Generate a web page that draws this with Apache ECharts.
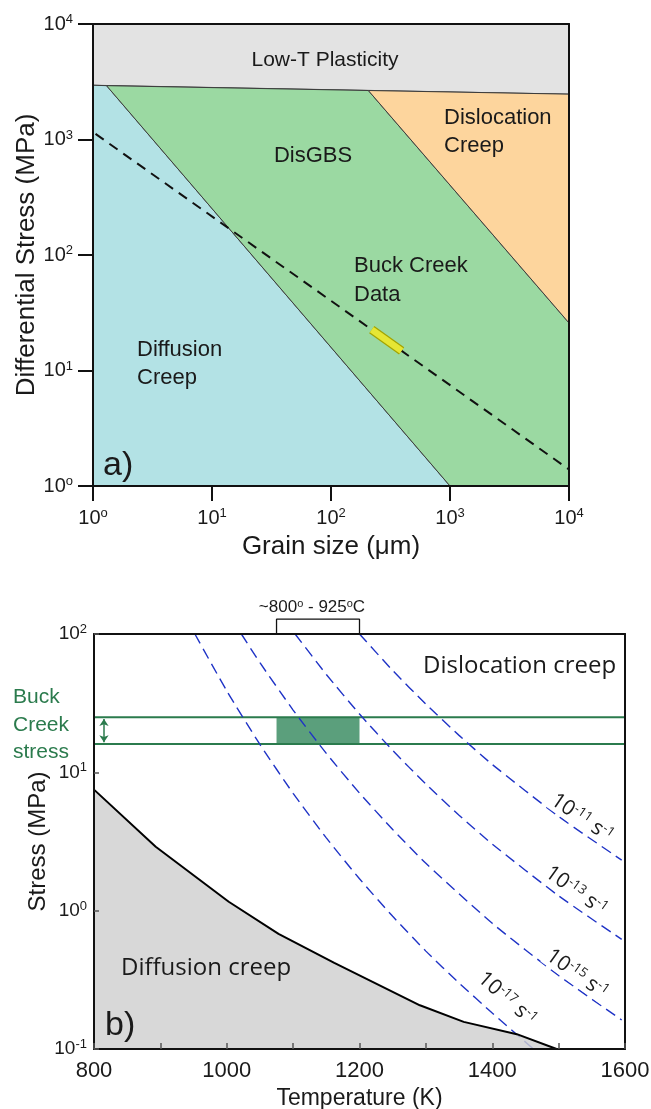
<!DOCTYPE html>
<html><head><meta charset="utf-8">
<script src="https://cdn.jsdelivr.net/npm/echarts@6/dist/echarts.min.js"></script>
<style>html,body{margin:0;padding:0;background:#fff}#c{width:651px;height:1109px}</style>
</head><body><div id="c"></div>
<script>
// ---------- Panel a) data (grain size µm, stress MPa) ----------
const topSupLabels = ['o', '1', '2', '3', '4'];          // exponents 0..4
const lowTPoly = [[1, 10000], [10000, 10000], [10000, 2470], [1, 2950]];
const diffusionPoly = [[1, 2950], [1.3, 2925], [1000, 1], [1, 1]];
const disgbsPoly = [[1.3, 2925], [206, 2655], [10000, 25.8], [10000, 1], [1000, 1]];
const dislocationPoly = [[206, 2655], [10000, 2470], [10000, 25.8]];
const buckTrend = [[1.05, 1118], [10000, 1.39]];
const buckData = [[220, 22.6], [392, 14.8]];

// ---------- Panel b) data (temperature K, stress MPa) ----------
const bottomSupLabels = {'-1': '-1', '0': '0', '1': '1', '2': '2'};
const diffBoundary = [[800, 7.5], [893, 2.9], [1003, 1.16], [1078, 0.68], [1162, 0.42], [1291, 0.207], [1357, 0.157], [1437, 0.128], [1497, 0.1], [1510, 0.1]];
const rate17 = [[952, 100], [1000, 38.8], [1050, 15.9], [1100, 7.05], [1150, 3.36], [1200, 1.70], [1250, 0.91], [1300, 0.51], [1350, 0.30], [1400, 0.182], [1462, 0.1]];
const rate15 = [[1022, 100], [1050, 62], [1100, 28.2], [1150, 13.7], [1200, 7.08], [1250, 3.86], [1300, 2.2], [1400, 0.81], [1500, 0.34], [1595, 0.162]];
const rate13 = [[1103, 100], [1150, 51], [1200, 26.4], [1250, 14.4], [1300, 8.22], [1350, 4.9], [1400, 3.03], [1500, 1.28], [1595, 0.62]];
const rate11 = [[1200, 100], [1250, 54.5], [1300, 31.1], [1350, 18.5], [1400, 11.4], [1500, 4.8], [1595, 2.32]];
const buckStress = [16, 25];
const tempSpan = [800, 1600];
const tempWindow = [1075, 1200];
const bracketTop = 128;
const arrowTemp = 815;

const FONT = "'Liberation Sans', Arial, sans-serif";
const FONT2 = "'Open Sans', 'Noto Sans', sans-serif";
const INK = '#1a1a1a';
const GREEN = '#2b7b4d';
const BLUE = '#1f33c6';

function poly(pts, color) {
  return {
    type: 'custom', xAxisIndex: 0, yAxisIndex: 0, data: pts, silent: true, z: 1,
    renderItem: function (params, api) {
      if (params.dataIndex !== 0) return null;
      return { type: 'polygon', shape: { points: pts.map(p => api.coord(p)) },
               style: { fill: color, stroke: '#3c3c3c', lineWidth: 1 } };
    }
  };
}

const supRich = { s: { fontSize: 13, fontFamily: FONT, color: INK, padding: [0, 0, 9, 0] } };

function frameAxis(extra) {
  return Object.assign({ axisLine: { show: true, lineStyle: { color: '#111', width: 2 } },
    axisTick: { show: false }, axisLabel: { show: false }, splitLine: { show: false }, z: 10 }, extra);
}

const option = {
  animation: false,
  backgroundColor: '#fff',
  grid: [
    { left: 93, right: 82, top: 24, height: 462, outerBoundsMode: 'none', containLabel: false },
    { left: 94, right: 26, top: 634, height: 415, outerBoundsMode: 'none', containLabel: false }
  ],
  xAxis: [
    { type: 'log', logBase: 10, min: 1, max: 10000, gridIndex: 0, z: 10,
      axisLine: { lineStyle: { color: '#111', width: 2 } },
      axisTick: { length: 15, lineStyle: { color: '#111', width: 2 } },
      splitLine: { show: false }, minorTick: { show: false },
      axisLabel: { margin: 21, fontSize: 20, fontFamily: FONT, color: INK, rich: supRich,
        formatter: v => '10{s|' + topSupLabels[Math.round(Math.log10(v))] + '}' },
      name: 'Grain size (\u03bcm)', nameLocation: 'middle', nameGap: 48, nameMoveOverlap: false,
      nameTextStyle: { fontSize: 26, fontFamily: FONT, color: INK } },
    frameAxis({ type: 'log', logBase: 10, min: 1, max: 10000, gridIndex: 0, position: 'top' }),
    { type: 'value', min: 800, max: 1600, interval: 100, gridIndex: 1, z: 10,
      axisLine: { lineStyle: { color: '#111', width: 2 } },
      axisTick: { inside: true, length: 6, lineStyle: { color: '#555', width: 1.5 } },
      splitLine: { show: false },
      axisLabel: { margin: 11, fontSize: 22, fontFamily: FONT, color: INK,
        formatter: v => (v % 200 === 0 ? String(v) : '') },
      name: 'Temperature (K)', nameLocation: 'middle', nameGap: 38, nameMoveOverlap: false,
      nameTextStyle: { fontSize: 23, fontFamily: FONT, color: INK } },
    frameAxis({ type: 'value', min: 800, max: 1600, gridIndex: 1, position: 'top' })
  ],
  yAxis: [
    { type: 'log', logBase: 10, min: 1, max: 10000, gridIndex: 0, z: 10,
      axisLine: { lineStyle: { color: '#111', width: 2 } },
      axisTick: { length: 15, lineStyle: { color: '#111', width: 2 } },
      splitLine: { show: false }, minorTick: { show: false },
      axisLabel: { margin: 20, fontSize: 20, fontFamily: FONT, color: INK, rich: supRich,
        formatter: v => '10{s|' + topSupLabels[Math.round(Math.log10(v))] + '}' },
      name: 'Differential Stress (MPa)', nameLocation: 'middle', nameGap: 53, nameMoveOverlap: false,
      nameTextStyle: { fontSize: 26, fontFamily: FONT, color: INK } },
    frameAxis({ type: 'log', logBase: 10, min: 1, max: 10000, gridIndex: 0, position: 'right' }),
    { type: 'log', logBase: 10, min: 0.1, max: 100, gridIndex: 1, z: 10,
      axisLine: { lineStyle: { color: '#111', width: 2 } },
      axisTick: { inside: true, length: 5, lineStyle: { color: '#555', width: 1.5 } },
      splitLine: { show: false }, minorTick: { show: false },
      axisLabel: { margin: 7, fontSize: 19, fontFamily: FONT, color: INK, rich: supRich,
        formatter: v => '10{s|' + bottomSupLabels[String(Math.round(Math.log10(v)))] + '}' },
      name: 'Stress (MPa)', nameLocation: 'middle', nameGap: 44, nameMoveOverlap: false,
      nameTextStyle: { fontSize: 24, fontFamily: FONT, color: INK } },
    frameAxis({ type: 'log', logBase: 10, min: 0.1, max: 100, gridIndex: 1, position: 'right' })
  ],
  series: [
    poly(lowTPoly, '#e3e3e3'),
    poly(diffusionPoly, '#b3e2e5'),
    poly(disgbsPoly, '#9bd9a2'),
    poly(dislocationPoly, '#fdd59d'),
    { type: 'line', xAxisIndex: 0, yAxisIndex: 0, data: buckTrend, symbol: 'none', silent: true, z: 3,
      lineStyle: { color: '#111', width: 2, type: [10, 7] } },
    { type: 'line', xAxisIndex: 0, yAxisIndex: 0, data: buckData, symbol: 'none', silent: true, z: 4,
      lineStyle: { color: '#a3a300', width: 9, cap: 'butt' } },
    { type: 'line', xAxisIndex: 0, yAxisIndex: 0, data: buckData, symbol: 'none', silent: true, z: 4,
      lineStyle: { color: '#eded3a', width: 6.5, cap: 'butt', opacity: 0.9 } },

    // panel b
    { type: 'line', xAxisIndex: 2, yAxisIndex: 2, silent: true, z: 2, symbol: 'none',
      data: [[tempSpan[0], buckStress[1]], [tempSpan[1], buckStress[1]]],
      lineStyle: { color: GREEN, width: 2 },
      markArea: { silent: true, itemStyle: { color: '#5b9f7c' },
        data: [[{ coord: [tempWindow[0], buckStress[1]] }, { coord: [tempWindow[1], buckStress[0]] }]] },
      markLine: { silent: true, symbol: ['arrow', 'arrow'], symbolSize: 7, label: { show: false },
        lineStyle: { color: GREEN, width: 1.5, type: 'solid' },
        data: [[{ coord: [arrowTemp, buckStress[1] * 0.97] }, { coord: [arrowTemp, buckStress[0] * 1.03] }]] } },
    { type: 'line', xAxisIndex: 2, yAxisIndex: 2, silent: true, z: 2, symbol: 'none',
      data: [[tempSpan[0], buckStress[0]], [tempSpan[1], buckStress[0]]],
      lineStyle: { color: GREEN, width: 2 } },
    ...[rate17, rate15, rate13, rate11].map(d => ({
      type: 'line', xAxisIndex: 2, yAxisIndex: 2, data: d, symbol: 'none', silent: true, z: 3,
      smooth: 0.2, lineStyle: { color: BLUE, width: 1.4, type: [11, 6] } })),
    { type: 'line', xAxisIndex: 2, yAxisIndex: 2, data: diffBoundary, symbol: 'none', silent: true, z: 5,
      lineStyle: { color: '#000', width: 2 },
      areaStyle: { color: '#d0d0d0', opacity: 0.82, origin: 'start' } },
    { type: 'line', xAxisIndex: 2, yAxisIndex: 2, symbol: 'none', silent: true, z: 6, clip: false,
      data: [[tempWindow[0], 100], [tempWindow[0], bracketTop], [tempWindow[1], bracketTop], [tempWindow[1], 100]],
      lineStyle: { color: '#111', width: 1.3 } }
  ],
  graphic: [
    // panel a labels
    { type: 'text', x: 325, y: 60, silent: true, z: 20, style: { text: 'Low-T Plasticity', fontSize: 21, fontFamily: FONT, fill: INK, textAlign: 'center', textVerticalAlign: 'middle' } },
    { type: 'text', x: 313, y: 156, silent: true, z: 20, style: { text: 'DisGBS', fontSize: 22, fontFamily: FONT, fill: INK, textAlign: 'center', textVerticalAlign: 'middle' } },
    { type: 'text', x: 444, y: 118, silent: true, z: 20, style: { text: 'Dislocation', fontSize: 22, fontFamily: FONT, fill: INK, textAlign: 'left', textVerticalAlign: 'middle' } },
    { type: 'text', x: 444, y: 146, silent: true, z: 20, style: { text: 'Creep', fontSize: 22, fontFamily: FONT, fill: INK, textAlign: 'left', textVerticalAlign: 'middle' } },
    { type: 'text', x: 354, y: 266, silent: true, z: 20, style: { text: 'Buck Creek', fontSize: 22, fontFamily: FONT, fill: INK, textAlign: 'left', textVerticalAlign: 'middle' } },
    { type: 'text', x: 354, y: 295, silent: true, z: 20, style: { text: 'Data', fontSize: 22, fontFamily: FONT, fill: INK, textAlign: 'left', textVerticalAlign: 'middle' } },
    { type: 'text', x: 137, y: 350, silent: true, z: 20, style: { text: 'Diffusion', fontSize: 22, fontFamily: FONT, fill: INK, textAlign: 'left', textVerticalAlign: 'middle' } },
    { type: 'text', x: 137, y: 378, silent: true, z: 20, style: { text: 'Creep', fontSize: 22, fontFamily: FONT, fill: INK, textAlign: 'left', textVerticalAlign: 'middle' } },
    { type: 'text', x: 103, y: 466, silent: true, z: 20, style: { text: 'a)', fontSize: 34, fontFamily: FONT, fill: INK, textAlign: 'left', textVerticalAlign: 'middle' } },
    // panel b labels
    { type: 'text', x: 312, y: 607, silent: true, z: 20, style: { text: '~800{s|o} - 925{s|o}C', fontSize: 17, fontFamily: FONT, fill: INK, textAlign: 'center', textVerticalAlign: 'middle',
      rich: { s: { fontSize: 11, fontFamily: FONT, fill: INK, padding: [0, 0, 7, 0] } } } },
    { type: 'text', x: 423, y: 666, silent: true, z: 20, style: { text: 'Dislocation creep', fontSize: 24, fontFamily: FONT2, fill: INK, textAlign: 'left', textVerticalAlign: 'middle' } },
    { type: 'text', x: 121, y: 968, silent: true, z: 20, style: { text: 'Diffusion creep', fontSize: 24, fontFamily: FONT2, fill: INK, textAlign: 'left', textVerticalAlign: 'middle' } },
    { type: 'text', x: 13, y: 697, silent: true, z: 20, style: { text: 'Buck', fontSize: 21, fontFamily: FONT, fill: GREEN, textAlign: 'left', textVerticalAlign: 'middle' } },
    { type: 'text', x: 13, y: 725, silent: true, z: 20, style: { text: 'Creek', fontSize: 21, fontFamily: FONT, fill: GREEN, textAlign: 'left', textVerticalAlign: 'middle' } },
    { type: 'text', x: 13, y: 752, silent: true, z: 20, style: { text: 'stress', fontSize: 21, fontFamily: FONT, fill: GREEN, textAlign: 'left', textVerticalAlign: 'middle' } },
    { type: 'text', x: 105, y: 1026, silent: true, z: 20, style: { text: 'b)', fontSize: 34, fontFamily: FONT, fill: INK, textAlign: 'left', textVerticalAlign: 'middle' } },
    ...[['10{s|-11} s{s|-1}', 582, 818, -0.6], ['10{s|-13} s{s|-1}', 576, 891, -0.62], ['10{s|-15} s{s|-1}', 577, 974, -0.62], ['10{s|-17} s{s|-1}', 507, 999, -0.72]].map(a => ({
      type: 'text', x: a[1], y: a[2], rotation: a[3], silent: true, z: 20,
      style: { text: a[0], fontSize: 21, fontFamily: FONT2, fill: INK, textAlign: 'center', textVerticalAlign: 'middle',
        backgroundColor: 'rgba(255,255,255,0.9)', padding: [0, 2],
        rich: { s: { fontSize: 13, fontFamily: FONT2, fill: INK, padding: [0, 0, 9, 0] } } } }))
  ]
};
const chart = echarts.init(document.getElementById('c'));
chart.setOption(option);
</script>
</body></html>
